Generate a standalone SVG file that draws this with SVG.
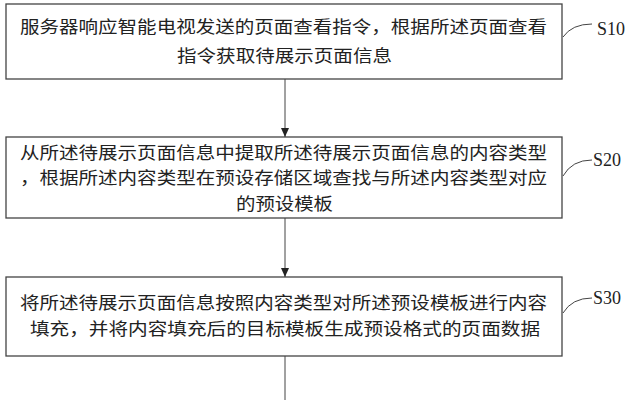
<svg xmlns="http://www.w3.org/2000/svg" width="631" height="400" viewBox="0 0 631 400">
<style>
.b{fill:#fff;stroke:#444;stroke-width:1.3}
.t{font-family:"Liberation Serif","Noto Sans CJK SC",serif;font-size:17px;fill:#222}
.l{font-family:"Liberation Serif",serif;font-size:18px;fill:#222}
.c{fill:none;stroke:#444;stroke-width:1}
</style>
<defs><marker id="a" markerWidth="10" markerHeight="10" refX="9" refY="5" orient="auto" markerUnits="userSpaceOnUse"><path d="M0,1 L9,5 L0,9 Z" fill="#222"/></marker></defs>
<g id="n1"><rect class="b" x="6" y="4" width="556" height="75"/>
<text class="t" x="20" y="33" textLength="527" lengthAdjust="spacingAndGlyphs">服务器响应智能电视发送的页面查看指令，根据所述页面查看</text>
<text class="t" x="177" y="62" textLength="215" lengthAdjust="spacingAndGlyphs">指令获取待展示页面信息</text>
<path class="c" d="M563,37 Q572,24 592,24"/><text class="l" x="597" y="35">S10</text></g>
<g id="n2"><rect class="b" x="6" y="137" width="556" height="81"/>
<text class="t" x="20" y="159" textLength="527" lengthAdjust="spacingAndGlyphs">从所述待展示页面信息中提取所述待展示页面信息的内容类型</text>
<text class="t" x="20" y="184" textLength="527" lengthAdjust="spacingAndGlyphs">，根据所述内容类型在预设存储区域查找与所述内容类型对应</text>
<text class="t" x="236" y="210" textLength="97" lengthAdjust="spacingAndGlyphs">的预设模板</text>
<path class="c" d="M563,176 Q572,160 592,160"/><text class="l" x="593" y="166">S20</text></g>
<g id="n3"><rect class="b" x="6" y="277" width="556" height="79"/>
<text class="t" x="20" y="309" textLength="527" lengthAdjust="spacingAndGlyphs">将所述待展示页面信息按照内容类型对所述预设模板进行内容</text>
<text class="t" x="30" y="335" textLength="510" lengthAdjust="spacingAndGlyphs">填充，并将内容填充后的目标模板生成预设格式的页面数据</text>
<path class="c" d="M563,313 Q572,298 592,298"/><text class="l" x="593" y="304">S30</text></g>
<g id="edges">
<line class="c" x1="285" y1="79" x2="285" y2="137" marker-end="url(#a)"/>
<line class="c" x1="285" y1="218" x2="285" y2="277" marker-end="url(#a)"/>
<line class="c" x1="285" y1="356" x2="285" y2="400"/>
</g>
</svg>
